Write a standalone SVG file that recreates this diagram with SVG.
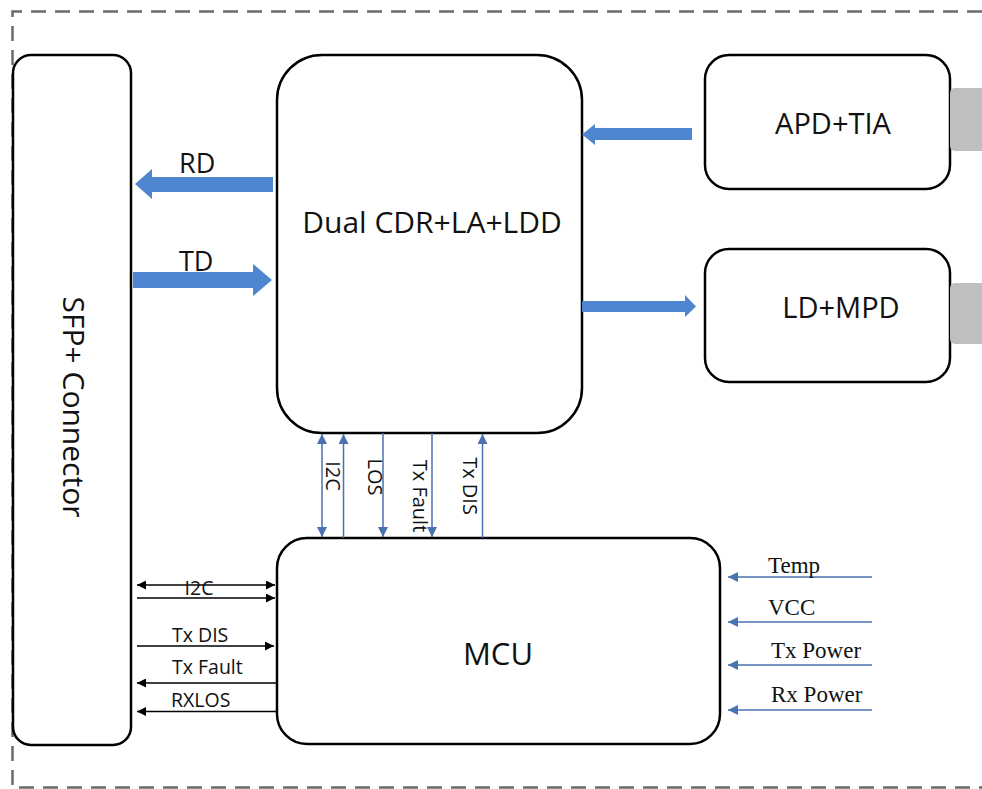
<svg xmlns="http://www.w3.org/2000/svg" width="982" height="789" viewBox="0 0 982 789">
<defs>
<style>
.box{fill:#fff;stroke:#000;stroke-width:2.5}
.tab{fill:#bfbfbf}
.big{fill:#4f86d0}
.sans{font-family:"Open Sans","Noto Sans","DejaVu Sans",sans-serif;fill:#111}
.serif{font-family:"Liberation Serif","Times New Roman",serif;fill:#111}
.bl{stroke:#4a72b0;stroke-width:1.5;fill:none}
.kl{stroke:#000;stroke-width:1.5;fill:none}
</style>
<marker id="ab" viewBox="0 0 10 10" refX="10" refY="5" markerWidth="10" markerHeight="10" markerUnits="userSpaceOnUse" orient="auto-start-reverse"><path d="M0,0 L10,5 L0,10 Z" fill="#4a72b0"/></marker>
<marker id="ak" viewBox="0 0 10 10" refX="10" refY="5" markerWidth="11" markerHeight="9" markerUnits="userSpaceOnUse" orient="auto-start-reverse"><path d="M0,0 L10,5 L0,10 Z" fill="#000"/></marker>
</defs>
<rect width="982" height="789" fill="#fff"/>
<path d="M982,11.5 H12.5 V787.5 H982" fill="none" stroke="#6b6b6b" stroke-width="2.5" stroke-dasharray="15 9"/>

<g id="sfp">
<rect class="box" x="13" y="55" width="118" height="690" rx="18"/>
<text class="sans" font-size="30" text-anchor="middle" transform="translate(63,407) rotate(90)">SFP+ Connector</text>
</g>
<g id="cdr">
<rect class="box" x="277" y="55" width="305" height="378" rx="45"/>
<text class="sans" font-size="30" text-anchor="middle" x="432" y="233">Dual CDR+LA+LDD</text>
</g>
<g id="apd">
<rect class="box" x="705" y="55" width="245" height="134" rx="24"/>
<rect class="tab" x="950" y="88" width="36" height="63" rx="5"/>
<text class="sans" font-size="29" text-anchor="middle" x="833" y="134">APD+TIA</text>
</g>
<g id="ld">
<rect class="box" x="705" y="249" width="245" height="133" rx="24"/>
<rect class="tab" x="950" y="283" width="36" height="61" rx="5"/>
<text class="sans" font-size="29" text-anchor="middle" x="841" y="318">LD+MPD</text>
</g>
<g id="mcu">
<rect class="box" x="277" y="538" width="443" height="206" rx="30"/>
<text class="sans" font-size="31" text-anchor="middle" x="498" y="665">MCU</text>
</g>

<g id="connectors">
<polygon class="big" points="273,177 152,177 152,169 135,184 152,199 152,192 273,192"/>
<polygon class="big" points="133,272 253,272 253,264 272,280 253,296 253,288 133,288"/>
<polygon class="big" points="692,128 595,128 595,124 582,134.5 595,145 595,140 692,140"/>
<polygon class="big" points="582,301 685,301 685,295 696,306.5 685,317 685,312 582,312"/>

<line class="bl" x1="322" y1="434" x2="322" y2="537" marker-start="url(#ab)" marker-end="url(#ab)"/>
<line class="bl" x1="343.5" y1="538" x2="343.5" y2="434" marker-end="url(#ab)"/>
<line class="bl" x1="383" y1="433" x2="383" y2="537" marker-end="url(#ab)"/>
<line class="bl" x1="432" y1="433" x2="432" y2="537" marker-end="url(#ab)"/>
<line class="bl" x1="482.5" y1="538" x2="482.5" y2="434" marker-end="url(#ab)"/>

<line class="kl" x1="137" y1="585" x2="275" y2="585" marker-start="url(#ak)" marker-end="url(#ak)"/>
<line class="kl" x1="137" y1="598" x2="275" y2="598" marker-end="url(#ak)"/>
<line class="kl" x1="137" y1="646" x2="274" y2="646" marker-end="url(#ak)"/>
<line class="kl" x1="277" y1="683" x2="137" y2="683" marker-end="url(#ak)"/>
<line class="kl" x1="277" y1="711.5" x2="137" y2="711.5" marker-end="url(#ak)"/>

<line class="bl" x1="872" y1="577" x2="728" y2="577" marker-end="url(#ab)"/>
<line class="bl" x1="872" y1="622" x2="728" y2="622" marker-end="url(#ab)"/>
<line class="bl" x1="872" y1="665" x2="728" y2="665" marker-end="url(#ab)"/>
<line class="bl" x1="872" y1="710" x2="728" y2="710" marker-end="url(#ab)"/>

<text class="sans" font-size="27" x="179" y="173">RD</text>
<text class="sans" font-size="27" x="179" y="271">TD</text>

<text class="sans" font-size="20" text-anchor="middle" transform="translate(326,476) rotate(90)">I2C</text>
<text class="sans" font-size="20" text-anchor="middle" transform="translate(368,477) rotate(90)">LOS</text>
<text class="sans" font-size="20" text-anchor="middle" transform="translate(413,496) rotate(90)">Tx Fault</text>
<text class="sans" font-size="20" text-anchor="middle" transform="translate(463,486) rotate(90)">Tx DIS</text>

<text class="sans" font-size="19.5" text-anchor="middle" x="199" y="595">I2C</text>
<text class="sans" font-size="19.5" x="172" y="642">Tx DIS</text>
<text class="sans" font-size="19.5" x="172" y="674">Tx Fault</text>
<text class="sans" font-size="19.5" x="171" y="707">RXLOS</text>

<text class="serif" font-size="23" x="768" y="573">Temp</text>
<text class="serif" font-size="23" x="768" y="615">VCC</text>
<text class="serif" font-size="23" x="771" y="658">Tx Power</text>
<text class="serif" font-size="23" x="771" y="702">Rx Power</text>
</g>
</svg>
